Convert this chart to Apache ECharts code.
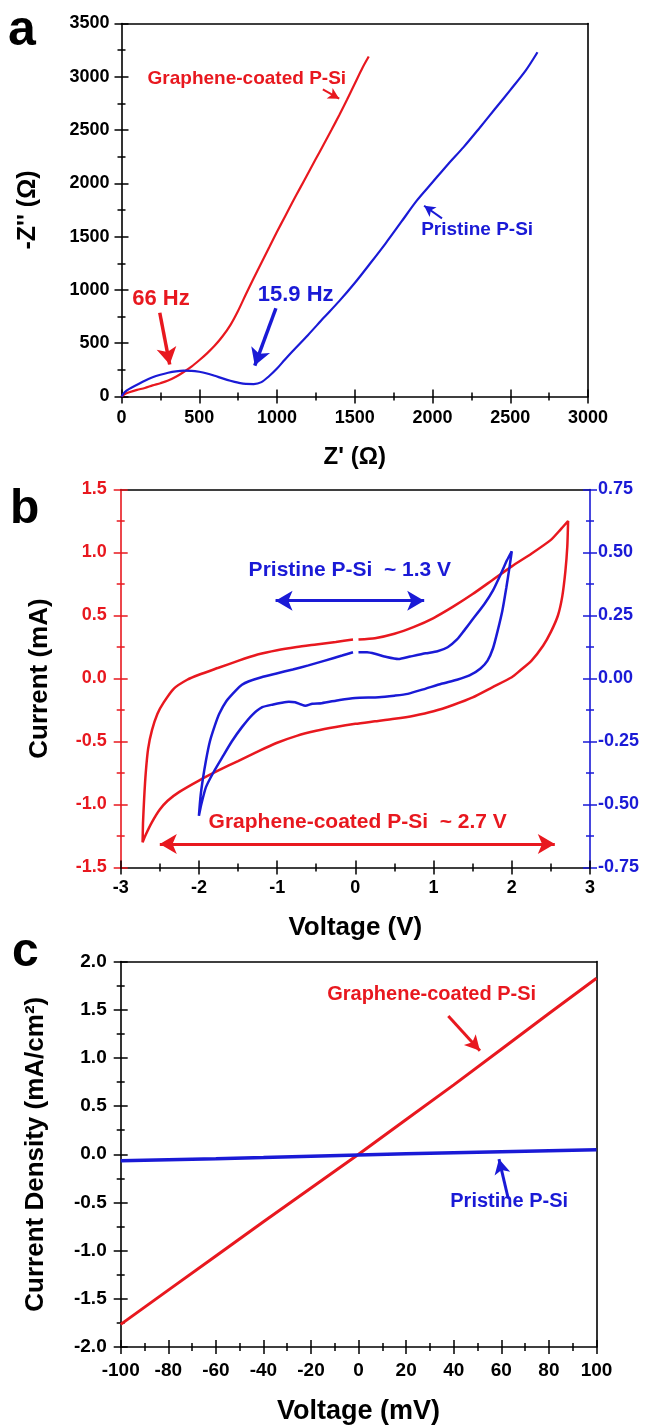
<!DOCTYPE html>
<html>
<head>
<meta charset="utf-8">
<script src="https://cdn.jsdelivr.net/npm/echarts@6/dist/echarts.min.js"></script>
<style>
html,body{margin:0;padding:0;background:#ffffff;}
#chart{width:649px;height:1426px;}
</style>
</head>
<body>
<div id="chart"></div>
<script>
// ---------- Panel a : Nyquist plot, [Z' (Ohm), -Z'' (Ohm)] ----------
const nyquistGraphene = [[0,0],[25,25],[50,40],[100,62],[150,80],[200,104],[250,125],[300,150],[350,185],[400,230],[450,280],[500,340],[550,405],[600,478],[650,565],[700,670],[750,805],[800,960],[850,1110],[900,1255],[950,1400],[1000,1545],[1050,1685],[1100,1825],[1150,1960],[1200,2095],[1250,2230],[1300,2365],[1350,2500],[1400,2640],[1450,2785],[1500,2935],[1550,3085],[1590,3190]];
const nyquistPristine = [[0,0],[20,40],[50,72],[100,110],[150,148],[200,180],[250,204],[300,223],[350,236],[400,242],[450,241],[500,232],[550,216],[600,194],[650,170],[700,148],[750,130],[800,118],[850,117],[900,135],[950,192],[1000,262],[1050,345],[1100,425],[1200,578],[1300,738],[1400,895],[1500,1065],[1600,1250],[1700,1440],[1800,1640],[1900,1840],[2000,2010],[2100,2180],[2200,2340],[2300,2515],[2400,2695],[2500,2875],[2600,3060],[2675,3230]];
const nyquistXTicks = [0,500,1000,1500,2000,2500,3000];
const nyquistYTicks = [0,500,1000,1500,2000,2500,3000,3500];

// ---------- Panel b : cyclic voltammetry, [Voltage (V), Current] ----------
// graphene-coated P-Si on the left axis (mA)
const cvGraphene = [[0.04,0.31],[0.25,0.32],[0.5,0.355],[0.75,0.41],[1.0,0.48],[1.25,0.57],[1.5,0.67],[1.75,0.78],[2.0,0.89],[2.25,0.99],[2.5,1.1],[2.62,1.18],[2.72,1.25],
  [2.71,1.05],[2.685,0.85],[2.645,0.65],[2.59,0.5],[2.5,0.37],[2.4,0.26],[2.25,0.14],[2.1,0.06],[2.0,0.01],
  [1.75,-0.07],[1.5,-0.15],[1.25,-0.21],[1.0,-0.26],[0.75,-0.295],[0.5,-0.32],[0.25,-0.34],[0,-0.36],[-0.25,-0.385],[-0.5,-0.415],[-0.75,-0.455],[-1.0,-0.51],[-1.25,-0.58],[-1.5,-0.655],[-1.75,-0.73],[-2.0,-0.81],[-2.25,-0.9],[-2.4,-0.97],[-2.5,-1.04],[-2.6,-1.14],[-2.68,-1.24],[-2.72,-1.30],
  [-2.715,-1.15],[-2.70,-0.95],[-2.68,-0.75],[-2.65,-0.56],[-2.6,-0.41],[-2.53,-0.28],[-2.45,-0.19],[-2.32,-0.08],[-2.15,-0.01],[-2.0,0.03],[-1.75,0.085],[-1.5,0.14],[-1.25,0.19],[-1.0,0.225],[-0.75,0.25],[-0.5,0.27],[-0.25,0.29],[-0.03,0.31]];
// pristine P-Si on the right axis (mA)
const cvPristine = [[0.04,0.104],[0.15,0.104],[0.25,0.098],[0.4,0.085],[0.55,0.077],[0.7,0.087],[0.9,0.10],[1.05,0.108],[1.18,0.124],[1.3,0.155],[1.39,0.19],[1.5,0.235],[1.65,0.296],[1.76,0.35],[1.86,0.415],[1.94,0.47],[2.0,0.505],
  [1.97,0.44],[1.93,0.36],[1.88,0.27],[1.82,0.19],[1.76,0.12],[1.69,0.071],[1.6,0.04],[1.46,0.012],[1.3,-0.005],[1.1,-0.021],[0.9,-0.04],[0.67,-0.061],[0.5,-0.068],[0.3,-0.074],[0,-0.077],[-0.2,-0.085],[-0.43,-0.098],[-0.55,-0.1],[-0.64,-0.108],[-0.7,-0.102],[-0.77,-0.094],[-0.85,-0.092],[-0.94,-0.096],[-1.05,-0.103],[-1.19,-0.114],[-1.32,-0.145],[-1.45,-0.193],[-1.58,-0.25],[-1.70,-0.312],[-1.81,-0.37],[-1.91,-0.431],[-1.97,-0.5],[-2.0,-0.545],
  [-1.98,-0.47],[-1.95,-0.40],[-1.91,-0.325],[-1.86,-0.25],[-1.8,-0.19],[-1.74,-0.14],[-1.65,-0.09],[-1.53,-0.048],[-1.45,-0.025],[-1.36,-0.011],[-1.2,0.005],[-1.02,0.019],[-0.8,0.036],[-0.6,0.052],[-0.4,0.07],[-0.17,0.091],[-0.03,0.104]];
const cvXTicks = [-3,-2,-1,0,1,2,3];
const cvLeftTicks = [-1.5,-1.0,-0.5,0.0,0.5,1.0,1.5];
const cvRightTicks = [-0.75,-0.5,-0.25,0,0.25,0.5,0.75];

// ---------- Panel c : I-V curves ----------
const ivVoltage = [-100,-80,-60,-40,-20,0,20,40,60,80,100];
const ivGraphene = [-1.765,-1.41,-1.055,-0.70,-0.35,0.0,0.36,0.72,1.09,1.46,1.827];
const ivPristine = [-0.068,-0.057,-0.046,-0.034,-0.021,-0.008,0.004,0.015,0.026,0.036,0.046];
const ivXTicks = [-100,-80,-60,-40,-20,0,20,40,60,80,100];
const ivYTicks = [-2.0,-1.5,-1.0,-0.5,0.0,0.5,1.0,1.5,2.0];

// ---------- styling ----------
const RED = '#e8181f', BLUE = '#1a1ad6', BLACK = '#000000';
const FONT = '"Liberation Sans", Arial, Helvetica, sans-serif';

function fromTicks(t){ return {min:t[0], max:t[t.length-1], interval:+(t[1]-t[0]).toFixed(6)}; }

function tickAxes(g, ticks, color, o){
  const base = Object.assign({type:'value', gridIndex:g, position:o.position}, fromTicks(ticks), {
    splitLine:{show:false}, minorSplitLine:{show:false}
  });
  const main = Object.assign({}, base, {
    axisLine:{show:true, onZero:false, lineStyle:{color:color, width:1.6}},
    axisTick:{show:true, inside:false, length:7, lineStyle:{color:color, width:1.5}},
    minorTick:{show:true, splitNumber:2, length:4, lineStyle:{color:color, width:1.5}},
    axisLabel:{show:true, color:color, fontFamily:FONT, fontWeight:'bold', fontSize:o.fs, margin:o.margin,
      formatter:o.fmt, showMinLabel:true, showMaxLabel:true},
    name:o.name || '', nameLocation:'middle', nameGap:o.nameGap || 0,
    nameTextStyle:{color:BLACK, fontFamily:FONT, fontWeight:'bold', fontSize:o.nameSize || 12}
  });
  const dup = Object.assign({}, base, {
    axisLine:{show:false, onZero:false},
    axisTick:{show:true, inside:true, length:7, lineStyle:{color:color, width:1.5}},
    minorTick:{show:true, splitNumber:2, length:4, lineStyle:{color:color, width:1.5}},
    axisLabel:{show:false}
  });
  return [main, dup];
}
function frameAxis(g, position, ticks){
  return Object.assign({type:'value', gridIndex:g, position:position}, fromTicks(ticks), {
    axisLine:{show:true, onZero:false, lineStyle:{color:BLACK, width:1.6}},
    axisTick:{show:false}, axisLabel:{show:false}, splitLine:{show:false}
  });
}
function arrow(from, to, color, width, head, both){
  return [
    {coord:from, symbol: both ? 'arrow' : 'none', symbolSize: head, lineStyle:{color:color, width:width, type:'solid'}},
    {coord:to, symbol:'arrow', symbolSize: head}
  ];
}
function marks(arrows, texts, color){
  return {
    markLine:{silent:true, animation:false, label:{show:false}, symbol:['none','arrow'],
      lineStyle:{color:color, type:'solid'}, data:arrows},
    markPoint:{silent:true, animation:false, symbol:'circle', symbolSize:1, itemStyle:{color:'rgba(0,0,0,0)'},
      label:{show:true, position:'inside', formatter:p => p.name, color:color, fontFamily:FONT, fontWeight:'bold'},
      data:texts.map(t => ({name:t.text, coord:t.at, label:{fontSize:t.size}}))}
  };
}

const fmtInt = v => String(v);
const fmt1 = v => v.toFixed(1);
const fmt2 = v => v.toFixed(2);

const [ax0, ax1] = tickAxes(0, nyquistXTicks, BLACK, {position:'bottom', fs:18, margin:13, fmt:fmtInt, name:"Z' (\u03A9)", nameGap:49, nameSize:24});
const [ay0, ay1] = tickAxes(0, nyquistYTicks, BLACK, {position:'left', fs:18, margin:12, fmt:fmtInt, name:"-Z'' (\u03A9)", nameGap:81, nameSize:25});
const [bx0, bx1] = tickAxes(1, cvXTicks, BLACK, {position:'bottom', fs:18, margin:12, fmt:fmtInt, name:'Voltage (V)', nameGap:47, nameSize:26});
const [byl0, byl1] = tickAxes(1, cvLeftTicks, RED, {position:'left', fs:18, margin:14, fmt:fmt1, name:'Current (mA)', nameGap:68, nameSize:26});
const [byr0, byr1] = tickAxes(1, cvRightTicks, BLUE, {position:'right', fs:18, margin:8, fmt:fmt2});
const [cx0, cx1] = tickAxes(2, ivXTicks, BLACK, {position:'bottom', fs:19, margin:14, fmt:fmtInt, name:'Voltage (mV)', nameGap:51, nameSize:27});
const [cy0, cy1] = tickAxes(2, ivYTicks, BLACK, {position:'left', fs:19, margin:14, fmt:fmt1, name:'Current Density (mA/cm\u00B2)', nameGap:72, nameSize:26});

const option = {
  animation:false,
  backgroundColor:'#ffffff',
  grid:[
    {left:121.5, top:23.5, width:466.5, height:373},
    {left:120.7, top:489.5, width:469.3, height:378},
    {left:120.7, top:961.5, width:475.8, height:388}
  ],
  xAxis:[ax0, ax1, frameAxis(0,'top',nyquistXTicks), bx0, bx1, frameAxis(1,'top',cvXTicks), cx0, cx1, frameAxis(2,'top',ivXTicks)],
  yAxis:[ay0, ay1, frameAxis(0,'right',nyquistYTicks), byl0, byl1, byr0, byr1, cy0, cy1, frameAxis(2,'right',ivYTicks)],
  graphic:[
    {type:'text', left:8, top:6, style:{text:'a', font:'bold 50px ' + FONT, fill:BLACK}},
    {type:'text', left:10, top:486, style:{text:'b', font:'bold 48px ' + FONT, fill:BLACK}},
    {type:'text', left:12, top:929, style:{text:'c', font:'bold 48px ' + FONT, fill:BLACK}}
  ],
  series:[
    Object.assign({type:'line', name:'Graphene-coated P-Si (a)', xAxisIndex:0, yAxisIndex:0, data:nyquistGraphene,
      showSymbol:false, smooth:0.3, lineStyle:{color:RED, width:2.2}, itemStyle:{color:RED}, z:3},
      marks([arrow([1295,2882],[1400,2795],RED,2,[9,11]), arrow([246,786],[310,300],RED,3.5,[15,17])],
            [{text:'Graphene-coated P-Si', at:[806,2986], size:19}, {text:'66 Hz', at:[254,915], size:22}], RED)),
    Object.assign({type:'line', name:'Pristine P-Si (a)', xAxisIndex:0, yAxisIndex:0, data:nyquistPristine,
      showSymbol:false, smooth:0.3, lineStyle:{color:BLUE, width:2.2}, itemStyle:{color:BLUE}, z:4},
      marks([arrow([2061,1672],[1946,1790],BLUE,2,[9,11]), arrow([993,828],[857,290],BLUE,3.5,[15,17])],
            [{text:'Pristine P-Si', at:[2287,1569], size:19}, {text:'15.9 Hz', at:[1120,952], size:22}], BLUE)),
    Object.assign({type:'line', name:'Graphene-coated P-Si (b)', xAxisIndex:3, yAxisIndex:3, data:cvGraphene,
      showSymbol:false, smooth:0.2, lineStyle:{color:RED, width:2.5}, itemStyle:{color:RED}, z:3},
      marks([arrow([-2.5,-1.313],[2.55,-1.313],RED,3,[15,17],true)],
            [{text:'Graphene-coated P-Si  ~ 2.7 V', at:[0.03,-1.137], size:21}], RED)),
    Object.assign({type:'line', name:'Pristine P-Si (b)', xAxisIndex:3, yAxisIndex:5, data:cvPristine,
      showSymbol:false, smooth:0.2, lineStyle:{color:BLUE, width:2.5}, itemStyle:{color:BLUE}, z:4},
      marks([arrow([-1.02,0.309],[0.88,0.309],BLUE,3,[15,17],true)],
            [{text:'Pristine P-Si  ~ 1.3 V', at:[-0.07,0.43], size:21}], BLUE)),
    Object.assign({type:'line', name:'Graphene-coated P-Si (c)', xAxisIndex:6, yAxisIndex:7,
      data:ivVoltage.map((v,i) => [v, ivGraphene[i]]),
      showSymbol:false, lineStyle:{color:RED, width:3}, itemStyle:{color:RED}, z:3},
      marks([arrow([37.7,1.435],[51,1.075],RED,3,[12,15])],
            [{text:'Graphene-coated P-Si', at:[30.7,1.657], size:20}], RED)),
    Object.assign({type:'line', name:'Pristine P-Si (c)', xAxisIndex:6, yAxisIndex:7,
      data:ivVoltage.map((v,i) => [v, ivPristine[i]]),
      showSymbol:false, lineStyle:{color:BLUE, width:3.5}, itemStyle:{color:BLUE}, z:4},
      marks([arrow([62.9,-0.459],[59,-0.05],BLUE,3,[12,15])],
            [{text:'Pristine P-Si', at:[63.3,-0.493], size:20}], BLUE))
  ]
};

const chart = echarts.init(document.getElementById('chart'), null, {renderer:'canvas'});
chart.setOption(option);
</script>
</body>
</html>
